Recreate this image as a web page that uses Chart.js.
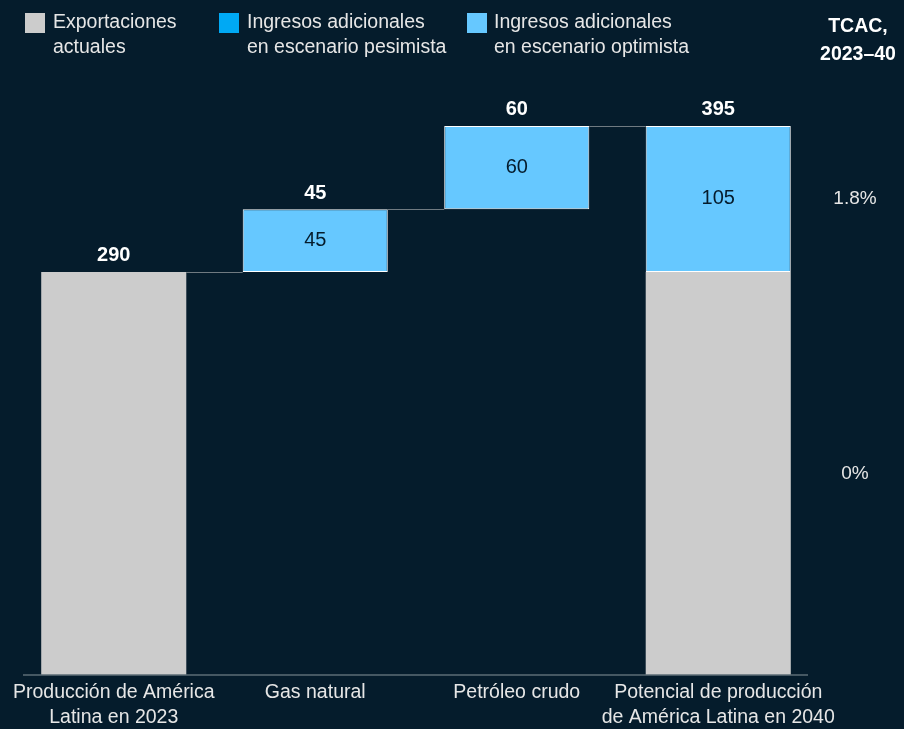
<!DOCTYPE html>
<html lang="es">
<head>
  <meta charset="UTF-8" />
  <title>Waterfall</title>
  <script src="https://cdn.jsdelivr.net/npm/chart.js"></script>
  <style>
    body { margin: 0; background: #051c2c; font-family: "Liberation Sans", Arial, sans-serif; }
    #wrap { position: relative; width: 904px; height: 729px; overflow: hidden; }
    .lg { position: absolute; top: 9px; color: #e6e6e6; font-size: 19.5px; line-height: 25px; }
    .sw { position: absolute; top: 13px; width: 20px; height: 20px; }
    #tcac { position: absolute; top: 11px; left: 806px; width: 104px; text-align: center; color: #fff; font-weight: bold; font-size: 19.5px; line-height: 28px; }
  </style>
</head>
<body>
<div id="wrap">
  <div class="sw" style="left:25px;background:#cccccc"></div>
  <div class="lg" style="left:53px">Exportaciones<br>actuales</div>
  <div class="sw" style="left:219px;background:#00a9f4"></div>
  <div class="lg" style="left:247px">Ingresos adicionales<br>en escenario pesimista</div>
  <div class="sw" style="left:467px;background:#66c8ff"></div>
  <div class="lg" style="left:494px">Ingresos adicionales<br>en escenario optimista</div>
  <div id="tcac">TCAC,<br>2023–40</div>
  <canvas id="chart"></canvas>
</div>
<script>
  const categories = [
    ['Producción de América', 'Latina en 2023'],
    'Gas natural',
    'Petróleo crudo',
    ['Potencial de producción', 'de América Latina en 2040']
  ];
  const actual = [290, null, null, 290];
  const optimistic = [null, 45, 60, 105];
  const totals = [290, 45, 60, 395];
  const cagr = ['0%', '1.8%'];

  // floating ranges for the step bars
  const baseStart = [null, 290, 335, 290];
  const actualRanges = actual.map(v => v == null ? null : [0, v]);
  const optRanges = optimistic.map((v, i) => v == null ? null : [baseStart[i], baseStart[i] + v]);

  const FONT = '"Liberation Sans", Arial, sans-serif';

  const extras = {
    id: 'extras',
    afterDatasetsDraw(chart) {
      const ctx = chart.ctx;
      const y = chart.scales.y;
      const grey = chart.getDatasetMeta(0).data;
      const blue = chart.getDatasetMeta(2).data;
      const bar = i => blue[i] && optRanges[i] ? blue[i] : grey[i];
      ctx.save();
      // baseline
      ctx.strokeStyle = '#5d6c76';
      ctx.lineWidth = 1.5;
      ctx.beginPath();
      ctx.moveTo(23, y.getPixelForValue(0));
      ctx.lineTo(808, y.getPixelForValue(0));
      ctx.stroke();
      // connectors
      ctx.strokeStyle = 'rgba(200,200,200,0.55)';
      ctx.lineWidth = 1;
      const levels = [290, 335, 395];
      for (let i = 0; i < 3; i++) {
        const a = bar(i), b = bar(i + 1);
        const py = Math.round(y.getPixelForValue(levels[i])) + 0.5;
        ctx.beginPath();
        ctx.moveTo(a.x + a.width / 2, py);
        ctx.lineTo(b.x - b.width / 2, py);
        ctx.stroke();
      }
      // value labels
      ctx.textAlign = 'center';
      ctx.textBaseline = 'middle';
      for (let i = 0; i < categories.length; i++) {
        const b = bar(i);
        const top = optRanges[i] ? optRanges[i][1] : actual[i];
        ctx.fillStyle = '#ffffff';
        ctx.font = 'bold 20px ' + FONT;
        ctx.fillText(totals[i], b.x, y.getPixelForValue(top) - 16);
        if (optRanges[i]) {
          ctx.fillStyle = '#051c2c';
          ctx.font = '20px ' + FONT;
          const mid = (optRanges[i][0] + optRanges[i][1]) / 2;
          ctx.fillText(optimistic[i], b.x, y.getPixelForValue(mid));
        }
      }
      // CAGR labels, aligned with last bar segments
      ctx.fillStyle = '#e6e6e6';
      ctx.font = '19px ' + FONT;
      ctx.fillText(cagr[0], 855, y.getPixelForValue(actual[3] / 2));
      ctx.fillText(cagr[1], 855, y.getPixelForValue((optRanges[3][0] + optRanges[3][1]) / 2));
      ctx.restore();
    }
  };

  new Chart(document.getElementById('chart'), {
    type: 'bar',
    data: {
      labels: categories,
      datasets: [
        { label: 'Exportaciones actuales', data: actualRanges, backgroundColor: '#cccccc', borderWidth: 0, grouped: false },
        { label: 'Ingresos adicionales en escenario pesimista', data: [null, null, null, null], backgroundColor: '#00a9f4', grouped: false },
        { label: 'Ingresos adicionales en escenario optimista', data: optRanges, backgroundColor: '#66c8ff', borderColor: '#ffffff', borderWidth: 1, borderSkipped: false, grouped: false }
      ]
    },
    options: {
      responsive: true,
      maintainAspectRatio: false,
      animation: false,
      layout: { padding: { left: 13, right: 85, top: 119, bottom: 0 } },
      plugins: { legend: { display: false }, tooltip: { enabled: false } },
      scales: {
        x: {
          grid: { display: false, drawTicks: false },
          border: { display: false },
          categoryPercentage: 0.695,
          barPercentage: 1,
          ticks: { color: '#e6e6e6', padding: 5, autoSkip: false, maxRotation: 0, font: { size: 19.5, family: FONT, lineHeight: 1.28 } },
          afterFit: axis => { axis.height = 54; }
        },
        y: { display: false, min: 0, max: 400 }
      }
    },
    plugins: [extras]
  });
</script>
</body>
</html>
